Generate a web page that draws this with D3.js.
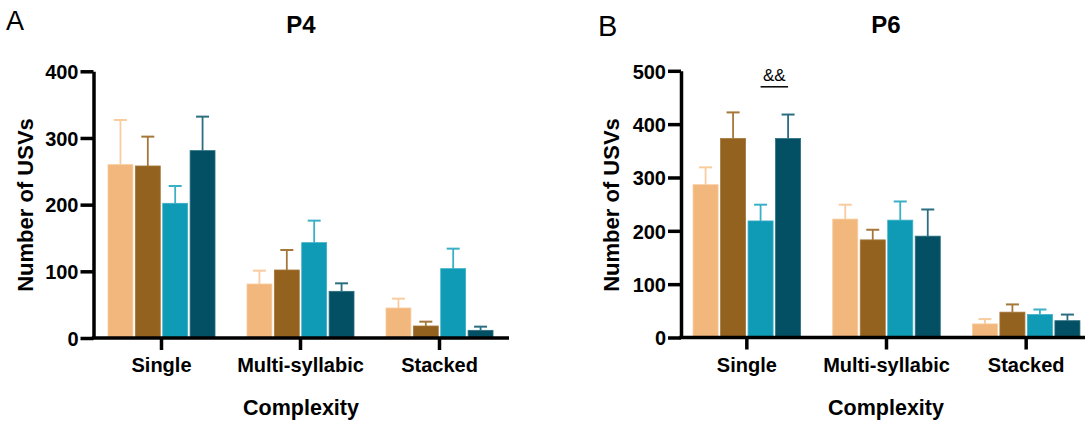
<!DOCTYPE html>
<html>
<head>
<meta charset="utf-8">
<script src="https://cdn.jsdelivr.net/npm/d3@7"></script>
<style>
  html, body { margin: 0; padding: 0; background: #fff; }
  svg { display: block; }
  text { font-family: "Liberation Sans", Arial, sans-serif; fill: #000; }
</style>
</head>
<body>
<svg id="chart" width="1085" height="423"></svg>
<script>
// ---- data ----
const categories = ["Single", "Multi-syllabic", "Stacked"];
const groups = ["g1", "g2", "g3", "g4"];
const colors = ["#F2B77C", "#93621F", "#0F9AB5", "#034F63"];
const errColors = ["#F8CC9F", "#A5773A", "#3AAFC6", "#2A6E80"];

const p4Mean = [[260, 258, 202, 281], [81, 102, 143, 70], [45, 18, 104, 11.5]];
const p4Err  = [[67, 44, 26, 51], [20, 30, 33, 12], [14, 6.5, 30, 5.5]];
const p4Ticks = [0, 100, 200, 300, 400];

const p6Mean = [[286.5, 373, 218.5, 373], [222, 183, 220, 190], [25.5, 47.5, 43, 31.5]];
const p6Err  = [[32.5, 49, 30.5, 45], [27, 19, 35, 50], [9, 14.5, 9.5, 11.5]];
const p6Ticks = [0, 100, 200, 300, 400, 500];

// significance annotation (P6, Single, between group 3 and 4)
const sigLabel = "&&";
const sigCategory = "Single";
const sigFrom = "g3", sigTo = "g4";
const sigLineValue = 470, sigTextValue = 480;

const svg = d3.select("#chart");

function panel(opt) {
  const g = svg.append("g");
  const y = d3.scaleLinear().domain([0, opt.yMax]).range(opt.yRange);
  const x0 = d3.scaleBand().domain(categories).range(opt.xRange).paddingInner(0).paddingOuter(0);
  const x1 = d3.scaleBand().domain(groups).range([0, x0.bandwidth()])
    .paddingInner(0.09).paddingOuter(0.584);

  // bars
  categories.forEach((c, ci) => {
    groups.forEach((s, si) => {
      const m = opt.mean[ci][si], e = opt.err[ci][si];
      const bx = x0(c) + x1(s);
      const cx = bx + x1.bandwidth() / 2;
      // error bar (upward only)
      g.append("line").attr("x1", cx).attr("x2", cx)
        .attr("y1", y(m)).attr("y2", y(m + e))
        .attr("stroke", errColors[si]).attr("stroke-width", 1.8);
      g.append("line").attr("x1", cx - 6.5).attr("x2", cx + 6.5)
        .attr("y1", y(m + e)).attr("y2", y(m + e))
        .attr("stroke", errColors[si]).attr("stroke-width", 2);
      g.append("rect")
        .attr("x", bx).attr("y", y(m))
        .attr("width", x1.bandwidth()).attr("height", y(0) - y(m))
        .attr("fill", colors[si])
        .attr("stroke", errColors[si]).attr("stroke-width", 0.8);
    });
  });

  // y axis
  const ya = g.append("g").attr("transform", `translate(${opt.yAxisX},0)`)
    .call(d3.axisLeft(y).tickValues(opt.ticks).tickSize(13).tickSizeOuter(0).tickPadding(2));
  ya.selectAll("path, line").attr("stroke", "#000").attr("stroke-width", 3.5);
  ya.selectAll("text").style("font-size", "20px").style("font-weight", "bold")
    .attr("dy", "0.36em");

  // x axis
  const xa = g.append("g").attr("transform", `translate(0,${y(0)})`)
    .call(d3.axisBottom(x0).tickSize(12).tickSizeOuter(0));
  xa.select("path.domain").attr("d", `M${opt.yAxisX - 1.75},0H${opt.xRange[1]}`);
  xa.selectAll("path, line").attr("stroke", "#000").attr("stroke-width", 3.5);
  xa.selectAll("text").style("font-size", "20px").style("font-weight", "bold")
    .attr("y", 34).attr("dy", 0);

  const midX = (opt.xRange[0] + opt.xRange[1]) / 2;
  // title
  g.append("text").attr("x", opt.titleX).attr("y", 33).attr("text-anchor", "middle")
    .style("font-size", "24px").style("font-weight", "bold").text(opt.title);
  // x title
  g.append("text").attr("x", opt.titleX).attr("y", 415).attr("text-anchor", "middle")
    .style("font-size", "21.5px").style("font-weight", "bold").text("Complexity");
  // y title
  g.append("text").attr("transform", `translate(${opt.yLabelX},205) rotate(-90)`)
    .attr("text-anchor", "middle")
    .style("font-size", "22px").style("font-weight", "bold").text("Number of USVs");
  // panel letter
  g.append("text").attr("x", opt.letterX).attr("y", opt.letterY)
    .style("font-size", opt.letterSize).text(opt.letter);

  return { g, y, x0, x1 };
}

panel({
  mean: p4Mean, err: p4Err, ticks: p4Ticks, yMax: 400,
  yRange: [338, 71.3], xRange: [92, 509], yAxisX: 93.5,
  title: "P4", titleX: 301, yLabelX: 33,
  letter: "A", letterX: 6, letterY: 30, letterSize: "27px"
});

const r = panel({
  mean: p6Mean, err: p6Err, ticks: p6Ticks, yMax: 500,
  yRange: [337.5, 70.8], xRange: [677, 1096], yAxisX: 681,
  title: "P6", titleX: 886, yLabelX: 619,
  letter: "B", letterX: 598, letterY: 36, letterSize: "29px"
});

// significance marker
const sx1 = r.x0(sigCategory) + r.x1(sigFrom) + r.x1.bandwidth() / 2;
const sx2 = r.x0(sigCategory) + r.x1(sigTo) + r.x1.bandwidth() / 2;
r.g.append("line").attr("x1", sx1).attr("x2", sx2)
  .attr("y1", r.y(sigLineValue)).attr("y2", r.y(sigLineValue))
  .attr("stroke", "#000").attr("stroke-width", 1.5);
r.g.append("text").attr("x", (sx1 + sx2) / 2).attr("y", r.y(sigTextValue))
  .attr("text-anchor", "middle").style("font-size", "17px").text(sigLabel);
</script>
</body>
</html>
